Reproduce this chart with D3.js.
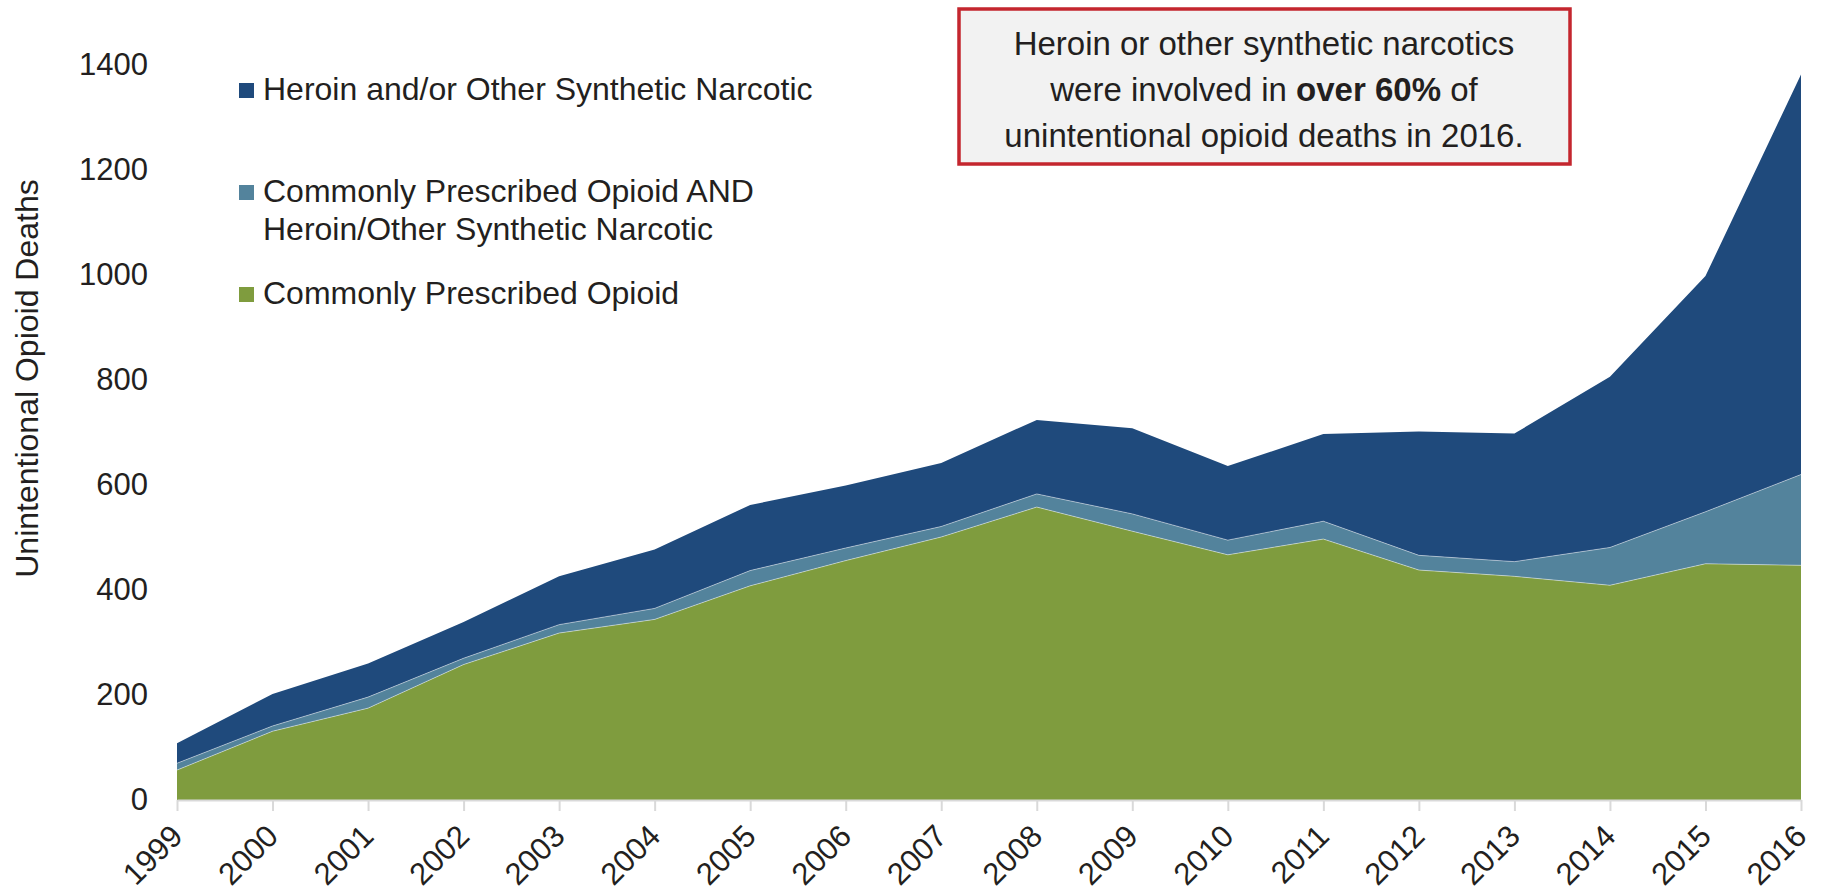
<!DOCTYPE html>
<html>
<head>
<meta charset="utf-8">
<script src="https://cdn.jsdelivr.net/npm/d3@7"></script>
<style>
  body { margin: 0; background: #fff; }
  svg { display: block; font-family: 'Liberation Sans', Arial, sans-serif; }
</style>
</head>
<body>
<div id="root"></div>
<script>
// values
const years = [1999, 2000, 2001, 2002, 2003, 2004, 2005, 2006, 2007, 2008,
  2009, 2010, 2011, 2012, 2013, 2014, 2015, 2016];
const prescribed = [57, 131, 175, 258, 318, 344, 408, 456, 501, 558,
  512, 467, 497, 438, 426, 409, 450, 447];
const prescribedAndHeroin = [13, 10, 21, 12, 16, 21, 29, 24, 20, 25,
  33, 28, 34, 28, 28, 72, 99, 173];
const heroin = [38, 61, 64, 69, 92, 112, 125, 119, 121, 141,
  163, 141, 166, 236, 244, 325, 449, 762];
const yTicks = [0, 200, 400, 600, 800, 1000, 1200, 1400];

const seriesKeys = ['prescribed', 'combo', 'heroin'];
const seriesColors = {
  prescribed: '#7f9c3e',
  combo: '#53839c',
  heroin: '#1f4a7c',
};
const legendItems = [
  { key: 'heroin', lines: ['Heroin and/or Other Synthetic Narcotic'] },
  { key: 'combo', lines: ['Commonly Prescribed Opioid AND', 'Heroin/Other Synthetic Narcotic'] },
  { key: 'prescribed', lines: ['Commonly Prescribed Opioid'] },
];

const width = 1828;
const height = 893;
const padding = { top: 65, right: 27, bottom: 93, left: 177 };
const plotW = width - padding.left - padding.right;
const plotH = height - padding.top - padding.bottom;

const rows = years.map((y, i) => ({
  year: y,
  prescribed: prescribed[i],
  combo: prescribedAndHeroin[i],
  heroin: heroin[i],
}));

const stacked = d3.stack().keys(seriesKeys)(rows);

const x = d3.scaleLinear().domain([years[0], years[years.length - 1]]).range([0, plotW]);
const y = d3.scaleLinear().domain([0, 1400]).range([plotH, 0]);

const svg = d3.select('#root').append('svg')
  .attr('width', width)
  .attr('height', height);

const g = svg.append('g')
  .attr('transform', `translate(${padding.left} ${padding.top})`);

// stacked areas
const area = d3.area()
  .x(d => x(d.data.year))
  .y0(d => y(d[0]))
  .y1(d => y(d[1]));

g.append('g').selectAll('path')
  .data(stacked)
  .join('path')
  .attr('d', area)
  .attr('fill', d => seriesColors[d.key]);

// thin light seams between the layers
const seam = d3.line()
  .x(d => x(d.data.year))
  .y(d => y(d[1]));
g.append('g').selectAll('path')
  .data(stacked.slice(0, 2))
  .join('path')
  .attr('d', seam)
  .attr('fill', 'none')
  .attr('stroke', '#ffffff')
  .attr('stroke-opacity', 0.45)
  .attr('stroke-width', 1);

// x axis
const xAxis = d3.axisBottom(x)
  .tickValues(years)
  .tickFormat(d3.format('d'))
  .tickSize(11)
  .tickSizeOuter(0);
const gx = g.append('g')
  .attr('transform', `translate(0 ${plotH})`)
  .call(xAxis);
gx.select('.domain').attr('stroke', '#d9d9d9').attr('stroke-width', 2);
gx.selectAll('.tick line').attr('stroke', '#d9d9d9').attr('stroke-width', 2);
gx.selectAll('.tick text')
  .attr('fill', '#231f20')
  .style('font-size', '31px')
  .attr('text-anchor', 'end')
  .attr('x', 0)
  .attr('y', 0)
  .attr('dy', 0)
  .attr('transform', 'translate(7 38) rotate(-45)');

// y axis (labels only)
const yAxis = d3.axisLeft(y)
  .tickValues(yTicks)
  .tickFormat(d3.format('d'))
  .tickSize(0)
  .tickPadding(29);
const gy = g.append('g').call(yAxis);
gy.select('.domain').remove();
gy.selectAll('.tick text')
  .attr('fill', '#231f20')
  .style('font-size', '31px');

// y title
svg.append('text')
  .attr('transform', `translate(38 ${padding.top + plotH / 2 - 54}) rotate(-90)`)
  .attr('text-anchor', 'middle')
  .attr('fill', '#231f20')
  .style('font-size', '32px')
  .text('Unintentional Opioid Deaths');

// legend
const legendTops = [100, 202, 304];
const legend = svg.append('g').selectAll('g')
  .data(legendItems)
  .join('g')
  .attr('transform', (d, i) => `translate(239 ${legendTops[i]})`);
legend.append('rect')
  .attr('x', 0)
  .attr('y', -17)
  .attr('width', 15)
  .attr('height', 15)
  .attr('fill', d => seriesColors[d.key]);
legend.append('text')
  .attr('fill', '#231f20')
  .style('font-size', '32px')
  .selectAll('tspan')
  .data(d => d.lines)
  .join('tspan')
  .attr('x', 24)
  .attr('y', (d, i) => i * 38)
  .text(d => d);

// annotation box
const box = svg.append('g');
box.append('rect')
  .attr('x', 959)
  .attr('y', 9)
  .attr('width', 611)
  .attr('height', 155)
  .attr('fill', '#f2f2f2')
  .attr('stroke', '#c4262e')
  .attr('stroke-width', 3.5);
const note = box.append('text')
  .attr('text-anchor', 'middle')
  .attr('fill', '#231f20')
  .style('font-size', '33px');
note.append('tspan').attr('x', 1264).attr('y', 55)
  .text('Heroin or other synthetic narcotics');
const l2 = note.append('tspan').attr('x', 1264).attr('y', 101);
l2.append('tspan').text('were involved in ');
l2.append('tspan').style('font-weight', 'bold').text('over 60%');
l2.append('tspan').text(' of');
note.append('tspan').attr('x', 1264).attr('y', 147)
  .text('unintentional opioid deaths in 2016.');
</script>
</body>
</html>
